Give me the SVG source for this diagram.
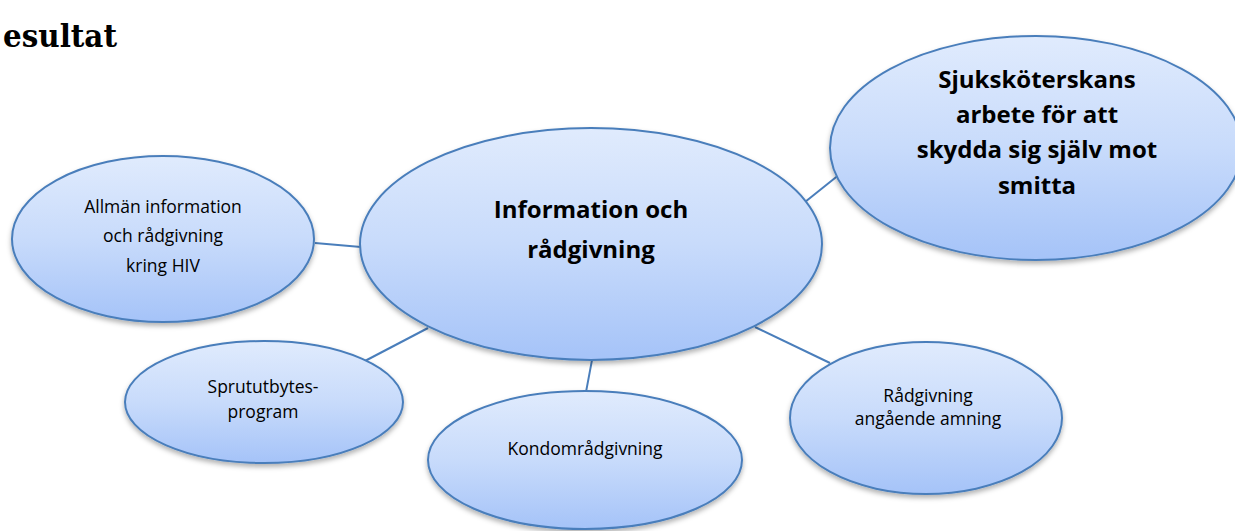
<svg xmlns="http://www.w3.org/2000/svg" width="1235" height="531" viewBox="0 0 1235 531">
<defs>
<linearGradient id="g" x1="0" y1="0" x2="0" y2="1">
<stop offset="0" stop-color="#e0ebfd"/>
<stop offset="0.5" stop-color="#c8dbfb"/>
<stop offset="1" stop-color="#a5c3f8"/>
</linearGradient>
<filter id="sh" x="-10%" y="-10%" width="120%" height="130%">
<feDropShadow dx="0" dy="3" stdDeviation="2.5" flood-color="#000" flood-opacity="0.3"/>
</filter>
</defs>
<style>
.n{fill:url(#g);stroke:#4a7ebb;stroke-width:2;filter:url(#sh)}
.c{stroke:#4a7ebb;stroke-width:2;fill:none}
.t{font-family:"Open Sans","Liberation Sans",sans-serif;font-size:17.5px;fill:#000;text-anchor:middle}
.b{font-family:"Open Sans","Liberation Sans",sans-serif;font-size:24px;font-weight:bold;fill:#000;text-anchor:middle}
.h{font-family:"DejaVu Serif","Liberation Serif",serif;font-size:32px;font-weight:bold;fill:#000}
</style>
<rect width="1235" height="531" fill="#fff"/>
<text class="h" x="3" y="47" textLength="114" lengthAdjust="spacingAndGlyphs">esultat</text>
<g id="connectors">
<line class="c" x1="315" y1="243" x2="361" y2="247"/>
<line class="c" x1="805" y1="202" x2="845" y2="170"/>
<line class="c" x1="428" y1="328" x2="363" y2="362"/>
<line class="c" x1="592" y1="360" x2="586" y2="392"/>
<line class="c" x1="755" y1="327" x2="830" y2="363"/>
</g>
<g id="center">
<ellipse class="n" cx="591" cy="244" rx="231" ry="116"/>
<text class="b" x="591" y="218">Information och</text>
<text class="b" x="591" y="258">rådgivning</text>
</g>
<g id="skydd">
<ellipse class="n" cx="1036" cy="148" rx="206" ry="112"/>
<text class="b" x="1037" y="88">Sjuksköterskans</text>
<text class="b" x="1037" y="123">arbete för att</text>
<text class="b" x="1037" y="158">skydda sig själv mot</text>
<text class="b" x="1037" y="194">smitta</text>
</g>
<g id="allman">
<ellipse class="n" cx="163" cy="239" rx="151" ry="83"/>
<text class="t" x="163" y="213">Allmän information</text>
<text class="t" x="163" y="242">och rådgivning</text>
<text class="t" x="163" y="272">kring HIV</text>
</g>
<g id="spruta">
<ellipse class="n" cx="264" cy="402" rx="139" ry="61"/>
<text class="t" x="263" y="393">Sprututbytes-</text>
<text class="t" x="263" y="418">program</text>
</g>
<g id="kondom">
<ellipse class="n" cx="585" cy="460" rx="157" ry="69"/>
<text class="t" x="585" y="455">Kondområdgivning</text>
</g>
<g id="amning">
<ellipse class="n" cx="926" cy="418" rx="136" ry="76"/>
<text class="t" x="928" y="402">Rådgivning</text>
<text class="t" x="928" y="425">angående amning</text>
</g>
</svg>
